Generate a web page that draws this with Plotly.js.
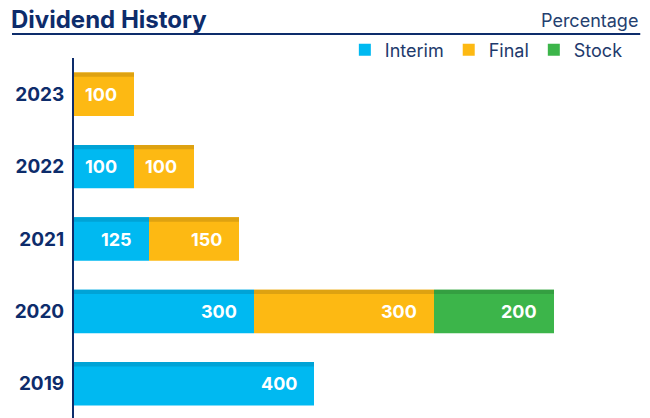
<!DOCTYPE html>
<html>
<head>
<meta charset="utf-8">
<script src="https://cdn.plot.ly/plotly-3.0.1.min.js"></script>
<style>html,body{margin:0;padding:0;background:#fff;}#chart{width:650px;height:418px;}</style>
</head>
<body>
<div id="chart"></div>
<script>
// ---- data ----
var years = ['2019', '2020', '2021', '2022', '2023'];
var interim = [400, 300, 125, 100, null];
var finalDiv = [null, 300, 150, 100, 100];
var stock = [null, 200, null, null, null];
var seriesNames = ['Interim', 'Final', 'Stock'];

// ---- style ----
var NAVY = '#0d2c6b';
var FONT = 'Inter, "Open Sans", sans-serif';
var colors = ['#00b9f1', '#fdb913', '#3cb54a'];
var stripeColors = ['#00a3d6', '#dea211', '#349f41'];

var series = [interim, finalDiv, stock];
// bases for stacking
var bases = series.map(function () { return years.map(function () { return 0; }); });
for (var i = 0; i < years.length; i++) {
  var acc = 0;
  for (var s = 0; s < series.length; s++) {
    bases[s][i] = acc;
    acc += series[s][i] || 0;
  }
}

var traces = [];
var annotations = [];
series.forEach(function (vals, s) {
  traces.push({
    type: 'bar', orientation: 'h', name: seriesNames[s],
    y: years, x: vals, base: bases[s],
    width: 0.6, offset: -0.3,
    marker: { color: colors[s], line: { width: 0 } },
    hoverinfo: 'skip', textposition: 'none'
  });
  traces.push({
    type: 'bar', orientation: 'h', name: seriesNames[s] + ' top', showlegend: false,
    y: years, x: vals, base: bases[s],
    width: 0.06, offset: 0.24,
    marker: { color: stripeColors[s], line: { width: 0 } },
    hoverinfo: 'skip', textposition: 'none'
  });
  vals.forEach(function (v, i) {
    if (v === null || v === undefined) return;
    annotations.push({
      xref: 'x', yref: 'y', x: bases[s][i] + v, y: i,
      xanchor: 'right', yanchor: 'middle', xshift: -15, yshift: 0,
      text: '<b>' + v + '</b>', showarrow: false,
      font: { family: FONT, size: 18, color: '#ffffff' }
    });
  });
});

annotations.push({
  xref: 'paper', yref: 'paper', x: 1.004, y: (418 - 21) / 360,
  xanchor: 'right', yanchor: 'middle', text: 'Percentage', showarrow: false,
  font: { family: FONT, size: 18, color: '#24406f' }
});

var layout = {
  width: 650, height: 418,
  margin: { l: 74, r: 12, t: 58, b: 0, pad: 0 },
  paper_bgcolor: '#fff', plot_bgcolor: '#fff',
  barmode: 'overlay',
  title: {
    text: '<b>Dividend History</b>',
    xref: 'container', yref: 'container', x: 11 / 650, xanchor: 'left',
    y: 1 - 20 / 418, yanchor: 'middle',
    font: { family: FONT, size: 24, color: NAVY }
  },
  xaxis: {
    range: [0, 940], showgrid: false, zeroline: false, showticklabels: false,
    showline: false, fixedrange: true
  },
  yaxis: {
    type: 'category', categoryorder: 'array', categoryarray: years,
    range: [-0.472, 4.5], showgrid: false, zeroline: false,
    showline: true, linecolor: NAVY, linewidth: 2,
    ticks: '', ticklabelstandoff: 4,
    tickfont: { family: FONT, size: 19, color: NAVY, weight: 'bold' }
  },
  legend: {
    orientation: 'h', x: 0.982, xanchor: 'right', y: (418 - 50) / 360, yanchor: 'middle',
    font: { family: FONT, size: 18, color: '#1e3a6c' },
    bgcolor: 'rgba(0,0,0,0)', traceorder: 'normal'
  },
  shapes: [{
    type: 'line', xref: 'paper', yref: 'paper',
    x0: (12 - 74) / 564, x1: 1.004, y0: (418 - 34) / 360, y1: (418 - 34) / 360,
    line: { color: NAVY, width: 2 }
  }],
  annotations: annotations,
  showlegend: true
};

Plotly.newPlot('chart', traces, layout, { displayModeBar: false, staticPlot: true });
</script>
</body>
</html>
